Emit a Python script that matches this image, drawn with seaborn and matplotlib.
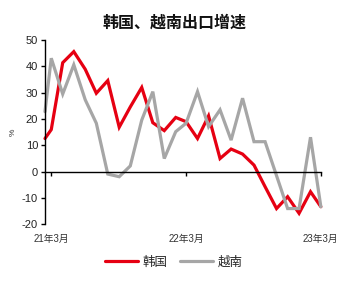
import matplotlib
matplotlib.use('Agg')
import matplotlib.pyplot as plt
import seaborn as sns
import pandas as pd
import matplotlib.dates as mdates

# ---- data ----
dates = pd.to_datetime(['2021-02-12'] + [d.strftime('%Y-%m-%d') for d in pd.date_range('2021-03-01', '2023-03-01', freq='MS')])
korea = [12.6, 16, 41.4, 45.6, 38.9, 29.8, 34.6, 16.9, 24.6, 32, 18.6, 15.6, 20.6,
         19, 12.6, 21.2, 5, 8.6, 6.7, 2.5, -5.7, -14, -9.5, -15.8, -7.6, -13.3]
vietnam = [22.8, 43.1, 29.5, 40.6, 27.3, 18.4, -0.9, -1.9, 2.2, 19.6, 30.4, 5, 15.2,
           18.4, 30.4, 17.1, 23.5, 12, 27.9, 11.4, 11.4, -1.5, -14, -14, 13.1, -13.3]
series_names = ['韩国', '越南']
tick_dates = pd.to_datetime(['2021-03-01', '2022-03-01', '2023-03-01'])
tick_labels = ['21年3月', '22年3月', '23年3月']
yticks = [-20, -10, 0, 10, 20, 30, 40, 50]
title = '韩国、越南出口增速'

df = pd.DataFrame({
    'date': list(dates) * 2,
    'value': korea + vietnam,
    'series': [series_names[0]] * len(korea) + [series_names[1]] * len(vietnam),
})

sns.set_style('white')
plt.rcParams['font.family'] = ['Liberation Sans', 'Noto Sans CJK SC', 'DejaVu Sans']

fig = plt.figure(figsize=(3.45, 2.84), dpi=100)
ax = fig.add_axes([0.1304, 0.210, 0.930 - 0.1304, 0.859 - 0.210])

palette = {series_names[0]: '#E60012', series_names[1]: '#A6A6A6'}
sns.lineplot(data=df, x='date', y='value', hue='series', palette=palette,
             linewidth=2.3, ax=ax, legend=True)
for ln in ax.lines:
    ln.set_clip_on(False)
    ln.set_solid_joinstyle('miter')

ax.set_ylim(-20, 50)
ax.set_xlim(dates[0], dates[-1])
ax.set_yticks(yticks)
ax.set_yticklabels([str(v) for v in yticks], fontsize=8, color='#222222')

ax.spines['top'].set_visible(False)
ax.spines['right'].set_visible(False)
ax.spines['left'].set_color('black')
ax.spines['left'].set_linewidth(1.0)
ax.spines['bottom'].set_position(('data', 0))
ax.spines['bottom'].set_color('black')
ax.spines['bottom'].set_linewidth(1.0)

ax.set_xticks(tick_dates)
ax.set_xticklabels(tick_labels, fontsize=7, color='#333333')
ax.tick_params(axis='y', direction='out', length=3, width=1, color='black', pad=2, left=True)
ax.tick_params(axis='x', direction='out', length=3, width=1, color='black', pad=42, bottom=True)

ax.set_xlabel('')
ax.set_ylabel('%', fontsize=6, rotation=90, labelpad=4, color='#333333')

fig.text(0.505, 0.919, title, ha='center', va='center', fontsize=11.5,
         fontweight='bold', family=['Noto Sans CJK SC'], color='#111111')

handles, labels = ax.get_legend_handles_labels()
ax.legend(handles=handles, labels=labels, loc='center', bbox_to_anchor=(0.505, 0.077),
          bbox_transform=fig.transFigure, ncol=2, frameon=False, fontsize=9,
          handlelength=2.6, handletextpad=0.4, columnspacing=1.0,
          prop={'family': ['Noto Sans CJK SC'], 'size': 9})

fig.savefig('out.png', dpi=100)
